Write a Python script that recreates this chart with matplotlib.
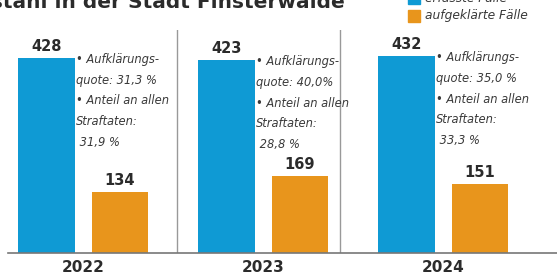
import matplotlib
matplotlib.use("Agg")
import matplotlib.pyplot as plt
import numpy as np
from matplotlib.patches import Rectangle

years = ["2022", "2023", "2024"]
erfasst = [428, 423, 432]
aufgeklaert = [134, 169, 151]
quote = ["31,3 %", "40,0%", "35,0 %"]
anteil = ["31,9 %", "28,8 %", "33,3 %"]

BLUE = "#0f9ad4"
ORANGE = "#e8951c"
DARK = "#2b2b2b"
W, H = 557, 277

fig = plt.figure(figsize=(W / 100, H / 100), dpi=100, facecolor="white")
# axes in pixel coordinates: left 8, right 557, bottom 253, top 30
ax = fig.add_axes([8 / W, 1 - 253 / H, (557 - 8) / W, (253 - 30) / H])
ax.set_facecolor("white")

x = np.arange(len(years))
bw = 0.315
off = 0.205
ax.bar(x - off, erfasst, width=bw, color=BLUE, zorder=2)
ax.bar(x + off, aufgeklaert, width=bw, color=ORANGE, zorder=2)

ax.set_xlim(-0.417, 2.633)
ax.set_ylim(0, 489)

for s in ["top", "right", "left"]:
    ax.spines[s].set_visible(False)
ax.spines["bottom"].set_color("#777777")
ax.spines["bottom"].set_linewidth(1.2)
ax.set_yticks([])
ax.set_xticks(x)
ax.set_xticklabels(years, fontsize=11, fontweight="bold", color=DARK)
ax.tick_params(axis="x", length=0, pad=5)

# separators
for sx in [0.52, 1.43]:
    ax.axvline(sx, ymin=0, ymax=1.0, color="#999999", lw=1.0, zorder=1)

for i in range(len(years)):
    ax.text(x[i] - off, erfasst[i] + 8, str(erfasst[i]), ha="center", va="bottom",
            fontsize=10.5, fontweight="bold", color=DARK)
    ax.text(x[i] + off, aufgeklaert[i] + 8, str(aufgeklaert[i]), ha="center", va="bottom",
            fontsize=10.5, fontweight="bold", color=DARK)
    txt = ("\u2022 Aufklärungs-\nquote: " + quote[i] + "\n\u2022 Anteil an allen\nStraftaten:\n " + anteil[i])
    ax.text(x[i] - off + bw / 2 + 0.01, erfasst[i] + 11, txt, ha="left", va="top",
            fontsize=8.3, style="italic", color="#3a3a3a",
            linespacing=1.78, clip_on=False)

# title (cut off at top in reference)
fig.text(345 / W, 1 - 8 / H, "Diebstahl in der Stadt Finsterwalde", ha="right",
         va="baseline", fontsize=14.5, fontweight="bold", color=DARK)

# legend (upper entry cut off)
fig.patches.append(Rectangle((408 / W, 1 - 22 / H), 12 / W, 12 / H,
                             transform=fig.transFigure, color=ORANGE))
fig.patches.append(Rectangle((408 / W, 1 - 4 / H), 12 / W, 12 / H,
                             transform=fig.transFigure, color=BLUE))
fig.text(425 / W, 1 - 16 / H, "aufgeklärte Fälle", ha="left", va="center",
         fontsize=8.8, style="italic", color="#3a3a3a")
fig.text(425 / W, 1 + 2 / H, "erfasste Fälle", ha="left", va="center",
         fontsize=8.8, style="italic", color="#3a3a3a")

fig.savefig("out.png", dpi=100, facecolor="white")
